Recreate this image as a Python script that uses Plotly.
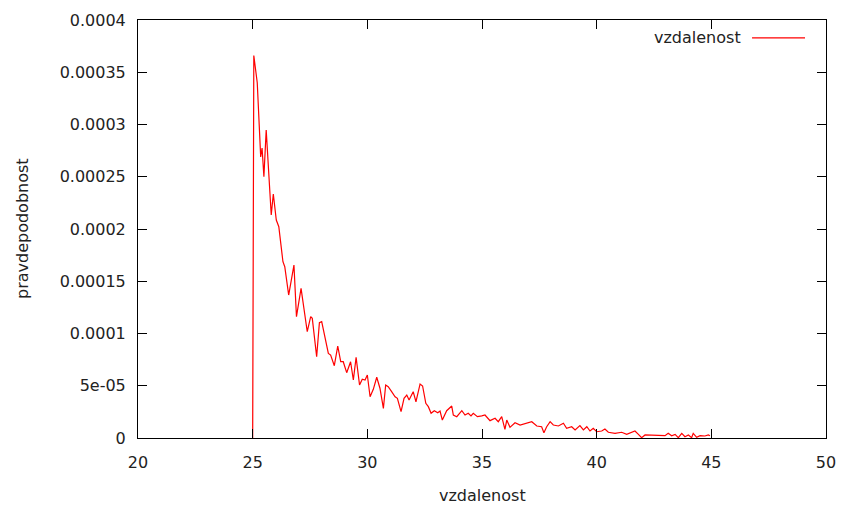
import plotly.graph_objects as go

# Distance histogram (probability density) traced as a single red line
vzdalenost = [
    25.0, 25.05, 25.2, 25.35, 25.41, 25.49, 25.59, 25.81, 25.9, 26.03,
    26.14, 26.32, 26.4, 26.57, 26.8, 26.91, 27.11, 27.38, 27.53, 27.6,
    27.79, 27.91, 28.01, 28.12, 28.3, 28.4, 28.56, 28.71, 28.84, 28.95,
    29.1, 29.27, 29.39, 29.51, 29.66, 29.78, 29.9, 30.0, 30.12, 30.26,
    30.41, 30.55, 30.7, 30.8, 30.91, 31.06, 31.21, 31.31, 31.47, 31.6,
    31.72, 31.82, 32.0, 32.12, 32.3, 32.41, 32.55, 32.66, 32.78, 32.92,
    33.07, 33.17, 33.27, 33.46, 33.68, 33.75, 33.9, 34.12, 34.26, 34.4,
    34.52, 34.62, 34.8, 34.99, 35.13, 35.35, 35.57, 35.71, 35.86, 36.0,
    36.08, 36.22, 36.44, 36.66, 36.95, 37.17, 37.39, 37.6, 37.7, 37.82,
    37.97, 38.11, 38.33, 38.55, 38.69, 38.91, 39.06, 39.27, 39.42, 39.57,
    39.71, 39.85, 40.0, 40.22, 40.36, 40.51, 40.8, 41.09, 41.31, 41.53,
    41.67, 41.82, 41.96, 42.11, 42.4, 42.69, 42.98, 43.12, 43.27, 43.42,
    43.56, 43.71, 43.85, 44.0, 44.14, 44.21, 44.36, 44.51, 44.72, 44.87,
    44.94,
]
pravdepodobnost = [
    0.0, 3.66e-4, 3.40e-4, 2.69e-4, 2.775e-4, 2.50e-4, 2.947e-4, 2.134e-4, 2.335e-4, 2.086e-4,
    2.022e-4, 1.687e-4, 1.639e-4, 1.368e-4, 1.655e-4, 1.161e-4, 1.432e-4, 1.017e-4, 1.161e-4, 1.145e-4,
    7.78e-5, 1.103e-4, 1.113e-4, 1.002e-4, 8.10e-5, 7.94e-5, 6.92e-5, 8.80e-5, 7.30e-5, 7.30e-5,
    6.25e-5, 7.30e-5, 5.55e-5, 7.72e-5, 5.07e-5, 5.62e-5, 5.55e-5, 6.03e-5, 3.95e-5, 4.66e-5,
    5.81e-5, 4.76e-5, 2.84e-5, 5.07e-5, 4.91e-5, 4.43e-5, 3.95e-5, 3.80e-5, 2.52e-5, 3.80e-5,
    4.11e-5, 3.64e-5, 4.43e-5, 3.47e-5, 5.17e-5, 4.98e-5, 3.32e-5, 3.00e-5, 2.36e-5, 2.61e-5,
    2.42e-5, 2.58e-5, 1.72e-5, 2.61e-5, 3.06e-5, 2.20e-5, 2.04e-5, 2.61e-5, 2.20e-5, 2.36e-5,
    2.11e-5, 2.36e-5, 2.04e-5, 2.11e-5, 2.20e-5, 1.66e-5, 1.89e-5, 1.56e-5, 2.04e-5, 8.3e-6,
    1.72e-5, 1.02e-5, 1.46e-5, 1.24e-5, 1.41e-5, 1.56e-5, 1.15e-5, 1.08e-5, 5.1e-6, 1.08e-5,
    1.56e-5, 1.24e-5, 1.15e-5, 1.41e-5, 9.3e-6, 1.08e-5, 7.7e-6, 1.18e-5, 7.7e-6, 1.08e-5,
    6.7e-6, 9.3e-6, 6.0e-6, 6.7e-6, 8.6e-6, 5.5e-6, 4.5e-6, 5.5e-6, 3.5e-6, 5.5e-6,
    6.7e-6, 3.5e-6, 3e-7, 2.9e-6, 2.9e-6, 2.9e-6, 2.2e-6, 4.5e-6, 2.2e-6, 3.5e-6,
    3e-7, 4.5e-6, 1.2e-6, 2.9e-6, 3e-7, 4.5e-6, 7e-7, 2.2e-6, 1.9e-6, 2.9e-6,
    2.2e-6,
]

x_ticks = [20, 25, 30, 35, 40, 45, 50]
y_ticks = [0, 0.00005, 0.0001, 0.00015, 0.0002, 0.00025, 0.0003, 0.00035, 0.0004]
y_tick_text = ["0", "5e-05", "0.0001", "0.00015", "0.0002", "0.00025", "0.0003", "0.00035", "0.0004"]

FONT = "DejaVu Sans"
TEXT_COLOR = "#222222"

fig = go.Figure()
fig.add_trace(go.Scatter(
    x=vzdalenost, y=pravdepodobnost, mode="lines",
    line=dict(color="#ff0000", width=1.2),
    name="vzdalenost", showlegend=False,
))

axis_common = dict(
    showline=True, linecolor="black", linewidth=1, mirror="ticks",
    ticks="inside", ticklen=9, tickwidth=1, tickcolor="black",
    showgrid=False, zeroline=False, automargin=False,
    tickfont=dict(family=FONT, size=16, color=TEXT_COLOR),
)

fig.update_layout(
    width=842, height=508,
    margin=dict(l=138, r=16, t=20, b=70, autoexpand=False),
    paper_bgcolor="white", plot_bgcolor="white",
    xaxis=dict(range=[20, 50], tickvals=x_ticks, ticklabelstandoff=10, **axis_common),
    yaxis=dict(range=[0, 0.0004], tickvals=y_ticks, ticktext=y_tick_text,
               ticklabelstandoff=8, **axis_common),
    annotations=[
        dict(text="vzdalenost", xref="paper", yref="paper", x=0.5, y=0,
             yshift=-57, showarrow=False, xanchor="center", yanchor="middle",
             font=dict(family=FONT, size=16, color=TEXT_COLOR)),
        dict(text="pravdepodobnost", xref="paper", yref="paper", x=0, y=0.5,
             xshift=-116, textangle=-90, showarrow=False,
             xanchor="center", yanchor="middle",
             font=dict(family=FONT, size=16, color=TEXT_COLOR)),
        # key entry: label to the left of the sample line
        dict(text="vzdalenost", xref="paper", yref="paper", x=0.879, y=0.957,
             showarrow=False, xanchor="right", yanchor="middle",
             font=dict(family=FONT, size=16, color=TEXT_COLOR)),
    ],
    shapes=[
        dict(type="line", xref="paper", yref="paper",
             x0=0.8925, x1=0.9695, y0=0.957, y1=0.957,
             line=dict(color="#ff0000", width=1.2)),
    ],
)

fig.write_html("out.html")
